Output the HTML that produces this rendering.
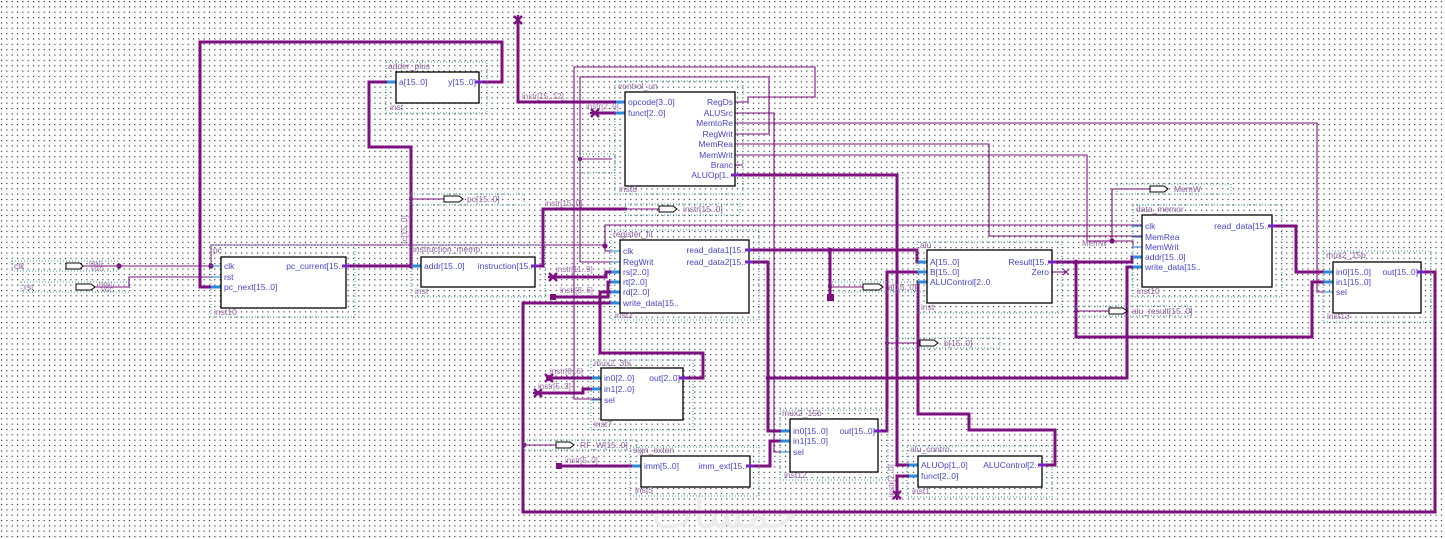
<!DOCTYPE html>
<html><head><meta charset="utf-8"><style>
html,body{margin:0;padding:0;background:#fff;}
svg{display:block;}
text{font-family:"Liberation Sans",sans-serif;}
.p{font-size:8.5px;fill:#4a42c8;}
.b{font-size:8.5px;fill:#8a5f9e;}
.n{font-size:8px;fill:#9a6aa8;}
.w{fill:none;stroke:#7d0f80;stroke-width:1.1;}
.W{fill:none;stroke:#7d0f80;stroke-width:3;stroke-linejoin:miter;}
.f{fill:none;stroke:#3f9c9c;stroke-width:1;stroke-dasharray:1,2;}
.bx{fill:#fff;stroke:#000;stroke-width:1.3;}
.si{stroke:#2b8be0;stroke-width:3;}
.st{stroke:#2b8be0;stroke-width:1.1;}
.so{stroke:#7a20c8;stroke-width:3;}
.pin{fill:#fff;stroke:#000;stroke-width:1;}
.j{fill:#7d0f80;}
</style></head><body>
<svg width="1445" height="539" viewBox="0 0 1445 539" xmlns="http://www.w3.org/2000/svg">
<defs>
<pattern id="g" x="1" y="1" width="5.333" height="5.35" patternUnits="userSpaceOnUse"><rect x="0" y="0" width="1.1" height="1.1" fill="#1a1a1a"/></pattern>
</defs>
<rect width="1445" height="539" fill="#fff"/>
<rect width="1445" height="539" fill="url(#g)"/>

<!-- watermark -->
<text x="725" y="528" text-anchor="middle" style="font-family:'DejaVu Sans',sans-serif;font-size:44px;fill:#ececec;">خمسات</text>

<!-- ===== thick bus wires ===== -->
<path class="W" d="M221 287 H200 V42 H502 V82 H479"/>
<path class="W" d="M396 82 H369 V147 H411 V266"/>
<path class="W" d="M346 266 H421"/>
<path class="W" d="M535 266 H543 V209 H627"/>
<path class="W" d="M518 20 V102 H625"/>
<path class="W" d="M595 113 H625"/>
<path class="W" d="M553 277 H606 V272 H620"/>
<path class="W" d="M553 297 H608 V282 H620"/>
<path class="W" d="M620 292 H600 V353 H703 V378 H683"/>
<path class="W" d="M620 303 H523 V512 H1435 V272 H1421"/>
<path class="W" d="M549 378 H601"/>
<path class="W" d="M538 393 H583 V389 H601"/>
<path class="W" d="M749 250 H917 V262 H927"/>
<path class="W" d="M830 250 V297"/>
<path class="W" d="M749 262 H768 V431 H790"/>
<path class="W" d="M768 378 H1127 V267 H1142"/>
<path class="W" d="M750 466 H770 V441 H790"/>
<path class="W" d="M878 431 H887 V272 H927"/>
<path class="W" d="M735 175 H897 V465 H918"/>
<path class="W" d="M1042 465 H1055 V430 H969 V414 H918 V282 H927"/>
<path class="W" d="M897 495 V476 H918"/>
<path class="W" d="M1052 262 H1132 V257 H1142"/>
<path class="W" d="M1076 262 V337 H1312 V282 H1333"/>
<path class="W" d="M1272 226 H1296 V272 H1333"/>
<path class="W" d="M559 466 H641"/>

<!-- ===== thin wires ===== -->
<path class="w" d="M82 266 H221"/>
<path class="w" d="M211 266 V245 H605 V251 H620"/>
<path class="w" d="M605 246 V225 H1142"/>
<path class="w" d="M95 287 H129 V277 H221"/>
<path class="w" d="M735 102 H748 V97 H815 V67 H574 V399 H601"/>
<path class="w" d="M735 113 H774 V452 H790"/>
<path class="w" d="M735 123 H1317 V292 H1333"/>
<path class="w" d="M735 134 H769 V77 H580 V262 H620"/>
<path class="w" d="M735 144 H989 V236 H1142"/>
<path class="w" d="M735 155 H1087 V241 H1133 V247 H1142"/>
<path class="w" d="M1112 241 V189 H1150"/>
<path class="w" d="M735 165 H743"/>
<path class="w" d="M1052 272 H1066"/>
<path class="w" d="M1063 269 L1069 275 M1069 269 L1063 275"/>
<path class="w" d="M580 159 H612"/>
<path class="w" d="M411 199 H444"/>
<path class="w" d="M627 209 H659"/>
<path class="w" d="M830 287 H863"/>
<path class="w" d="M887 343 H920"/>
<path class="w" d="M1076 311 H1109"/>
<path class="w" d="M524 445 H556"/>

<!-- junction dots -->
<g class="j">
<circle cx="119" cy="266" r="2.6"/><circle cx="211" cy="266" r="2.6"/>
<circle cx="411" cy="266" r="2.4"/><circle cx="411" cy="199" r="2"/>
<circle cx="605" cy="246" r="2.6"/><circle cx="580" cy="159" r="2.2"/>
<circle cx="830" cy="250" r="2.4"/><circle cx="830" cy="287" r="2"/>
<circle cx="768" cy="378" r="2.4"/><circle cx="887" cy="343" r="2"/>
<circle cx="1076" cy="262" r="2.4"/><circle cx="1076" cy="311" r="2"/>
<circle cx="1112" cy="241" r="2.6"/><circle cx="524" cy="445" r="2.4"/>
</g>
<!-- bus end markers -->
<g stroke="#7d0f80" stroke-width="2.4">
<path d="M514 16 L522 24 M522 16 L514 24 M518 15 V25"/>
<path d="M591 109 L599 117 M599 109 L591 117 M590 113 H600"/>
<path d="M549 273 L557 281 M557 273 L549 281 M548 277 H558"/>
<path d="M545 374 L553 382 M553 374 L545 382"/>
<path d="M534 389 L542 397 M542 389 L534 397 M533 393 H543"/>
<path d="M893 491 L901 499 M901 491 L893 499 M897 490 V500"/>
</g>
<g class="j">
<rect x="550" y="294" width="6" height="6"/>
<rect x="556" y="463" width="6" height="6"/>
<rect x="827" y="294" width="7" height="7"/>
<circle cx="549" cy="378" r="3"/>
</g>

<!-- pins -->
<polygon class="pin" points="66,263 80,263 83,266 80,269 66,269"/>
<polygon class="pin" points="76,284 91,284 95,287 91,290 76,290"/>
<polygon class="pin" points="444,196 459,196 463,199 459,202 444,202"/>
<polygon class="pin" points="659,206 673,206 677,209 673,212 659,212"/>
<polygon class="pin" points="863,284 879,284 883,287 879,290 863,290"/>
<polygon class="pin" points="920,340 934,340 938,343 934,346 920,346"/>
<polygon class="pin" points="1109,308 1123,308 1127,311 1123,314 1109,314"/>
<polygon class="pin" points="1150,186 1164,186 1168,189 1164,192 1150,192"/>
<polygon class="pin" points="556,442 570,442 574,445 570,448 556,448"/>

<!-- pin frames -->
<rect class="f" x="12" y="261" width="106" height="10"/>
<rect class="f" x="21" y="282" width="109" height="10"/>
<rect class="f" x="411" y="194" width="113" height="11"/>
<rect class="f" x="625" y="204" width="115" height="11"/>
<rect class="f" x="832" y="282" width="110" height="10"/>
<rect class="f" x="887" y="338" width="113" height="10"/>
<rect class="f" x="1076" y="306" width="114" height="10"/>
<rect class="f" x="1117" y="184" width="114" height="10"/>
<rect class="f" x="524" y="440" width="113" height="10"/>
<rect class="f" x="580" y="154" width="35" height="19"/>

<!-- pin labels -->
<text class="b" x="14" y="269">clk</text>
<text class="b" x="24" y="290">rst</text>
<text class="n" x="89" y="265" style="font-size:6px">input</text>
<text class="n" x="91" y="271" style="font-size:6px">VCC</text>
<text class="n" x="99" y="286" style="font-size:6px">input</text>
<text class="n" x="101" y="292" style="font-size:6px">VCC</text>
<text class="b" x="467" y="202">pc[15..0]</text>
<text class="b" x="683" y="212">instr[15..0]</text>
<text class="b" x="888" y="290">a[15..0]</text>
<text class="b" x="944" y="346">b[15..0]</text>
<text class="b" x="1132" y="314">alu_result[15..0]</text>
<text class="b" x="1174" y="192">MemW</text>
<text class="b" x="580" y="448">RF_W[15..0]</text>

<!-- net labels -->
<text class="n" x="522" y="99">instr[15..12]</text>
<text class="n" x="586" y="109">instr[2..0]</text>
<text class="n" x="545" y="206">instr[15..0]</text>
<text class="n" x="556" y="272">instr[11..9]</text>
<text class="n" x="560" y="293">instr[8..6]</text>
<text class="n" x="550" y="374">instr[8..6]</text>
<text class="n" x="538" y="389">instr[5..3]</text>
<text class="n" x="565" y="463">instr[5..0]</text>
<text class="n" x="1082" y="246">MemW</text>
<text class="n" transform="translate(407,246) rotate(-90)">pc[15..0]</text>
<text class="n" transform="translate(894,497) rotate(-90)">instr[2..0]</text>

<!-- ===== blocks ===== -->
<!-- pc -->
<rect class="f" x="211" y="245" width="144" height="72"/>
<line class="st" x1="212" y1="266" x2="221" y2="266"/><line class="st" x1="212" y1="277" x2="221" y2="277"/>
<line class="si" x1="211" y1="287" x2="221" y2="287"/>
<rect class="bx" x="221" y="257" width="125" height="51"/>
<line class="so" x1="342" y1="266" x2="350" y2="266"/>
<text class="b" x="213" y="253">pc</text><text class="b" x="214" y="315">inst10</text>
<text class="p" x="224" y="269">clk</text><text class="p" x="224" y="280">rst</text><text class="p" x="224" y="290">pc_next[15..0]</text>
<text class="p" x="343" y="269" text-anchor="end">pc_current[15..</text>

<!-- adder -->
<rect class="f" x="386" y="62" width="101" height="51"/>
<line class="si" x1="387" y1="82" x2="396" y2="82"/>
<rect class="bx" x="396" y="72" width="83" height="31"/>
<line class="so" x1="475" y1="82" x2="483" y2="82"/>
<text class="b" x="388" y="69">adder_plus</text><text class="b" x="390" y="110">inst</text>
<text class="p" x="399" y="85">a[15..0]</text><text class="p" x="476" y="85" text-anchor="end">y[15..0]</text>

<!-- instruction memory -->
<rect class="f" x="411" y="245" width="134" height="52"/>
<line class="si" x1="412" y1="266" x2="421" y2="266"/>
<rect class="bx" x="421" y="257" width="114" height="30"/>
<line class="so" x1="531" y1="266" x2="539" y2="266"/>
<text class="b" x="413" y="252">instruction_memo</text><text class="b" x="415" y="294">inst</text>
<text class="p" x="424" y="269">addr[15..0]</text><text class="p" x="533" y="269" text-anchor="end">instruction[15..</text>

<!-- control unit -->
<rect class="f" x="615" y="81" width="128" height="113"/>
<line class="si" x1="616" y1="102" x2="625" y2="102"/><line class="si" x1="616" y1="113" x2="625" y2="113"/>
<rect class="bx" x="625" y="92" width="110" height="94"/>
<line class="so" x1="731" y1="175" x2="739" y2="175"/>
<text class="b" x="618" y="89">control_un</text><text class="b" x="619" y="192">inst8</text>
<text class="p" x="628" y="105">opcode[3..0]</text><text class="p" x="628" y="116">funct[2..0]</text>
<text class="p" x="733" y="105" text-anchor="end">RegDs</text>
<text class="p" x="733" y="116" text-anchor="end">ALUSrc</text>
<text class="p" x="733" y="126" text-anchor="end">MemtoRe</text>
<text class="p" x="733" y="137" text-anchor="end">RegWrit</text>
<text class="p" x="733" y="147" text-anchor="end">MemRea</text>
<text class="p" x="733" y="158" text-anchor="end">MemWrit</text>
<text class="p" x="733" y="168" text-anchor="end">Branc</text>
<text class="p" x="731" y="178" text-anchor="end">ALUOp[1..</text>

<!-- register file -->
<rect class="f" x="611" y="230" width="148" height="90"/>
<line class="st" x1="611" y1="251" x2="620" y2="251"/><line class="st" x1="611" y1="262" x2="620" y2="262"/>
<line class="si" x1="611" y1="272" x2="620" y2="272"/><line class="si" x1="611" y1="282" x2="620" y2="282"/>
<line class="si" x1="611" y1="292" x2="620" y2="292"/><line class="si" x1="611" y1="303" x2="620" y2="303"/>
<rect class="bx" x="620" y="240" width="129" height="73"/>
<line class="so" x1="745" y1="250" x2="753" y2="250"/><line class="so" x1="745" y1="262" x2="753" y2="262"/>
<text class="b" x="613" y="237">register_fil</text><text class="b" x="615" y="318">inst2</text>
<text class="p" x="623" y="254">clk</text><text class="p" x="623" y="265">RegWrit</text>
<text class="p" x="623" y="275">rs[2..0]</text><text class="p" x="623" y="285">rt[2..0]</text>
<text class="p" x="623" y="295">rd[2..0]</text><text class="p" x="623" y="306">write_data[15..</text>
<text class="p" x="746" y="253" text-anchor="end">read_data1[15..</text>
<text class="p" x="746" y="265" text-anchor="end">read_data2[15..</text>

<!-- alu -->
<rect class="f" x="917" y="242" width="145" height="71"/>
<line class="si" x1="918" y1="262" x2="927" y2="262"/><line class="si" x1="918" y1="272" x2="927" y2="272"/>
<line class="si" x1="918" y1="282" x2="927" y2="282"/>
<rect class="bx" x="927" y="250" width="125" height="53"/>
<line class="so" x1="1048" y1="262" x2="1056" y2="262"/>
<text class="b" x="920" y="248">alu</text><text class="b" x="921" y="310">inst</text>
<text class="p" x="930" y="265">A[15..0]</text><text class="p" x="930" y="275">B[15..0]</text><text class="p" x="930" y="285">ALUControl[2..0</text>
<text class="p" x="1049" y="265" text-anchor="end">Result[15..</text><text class="p" x="1049" y="275" text-anchor="end">Zero</text>

<!-- data memory -->
<rect class="f" x="1133" y="205" width="149" height="92"/>
<line class="st" x1="1133" y1="226" x2="1142" y2="226"/><line class="st" x1="1133" y1="237" x2="1142" y2="237"/>
<line class="st" x1="1133" y1="247" x2="1142" y2="247"/>
<line class="si" x1="1133" y1="257" x2="1142" y2="257"/><line class="si" x1="1133" y1="267" x2="1142" y2="267"/>
<rect class="bx" x="1142" y="215" width="130" height="72"/>
<line class="so" x1="1268" y1="226" x2="1276" y2="226"/>
<text class="b" x="1136" y="212">data_memor</text><text class="b" x="1137" y="294">inst10</text>
<text class="p" x="1145" y="229">clk</text><text class="p" x="1145" y="240">MemRea</text><text class="p" x="1145" y="250">MemWrit</text>
<text class="p" x="1145" y="260">addr[15..0]</text><text class="p" x="1145" y="270">write_data[15..</text>
<text class="p" x="1269" y="229" text-anchor="end">read_data[15..</text>

<!-- mux2 15b right -->
<rect class="f" x="1323" y="251" width="108" height="71"/>
<line class="si" x1="1324" y1="272" x2="1333" y2="272"/><line class="si" x1="1324" y1="282" x2="1333" y2="282"/>
<line class="st" x1="1324" y1="292" x2="1333" y2="292"/>
<rect class="bx" x="1333" y="262" width="88" height="51"/>
<line class="so" x1="1417" y1="272" x2="1425" y2="272"/>
<text class="b" x="1326" y="258">mux2_15b</text><text class="b" x="1327" y="319">inst13</text>
<text class="p" x="1336" y="275">in0[15..0]</text><text class="p" x="1336" y="285">in1[15..0]</text><text class="p" x="1336" y="295">sel</text>
<text class="p" x="1418" y="275" text-anchor="end">out[15..0]</text>

<!-- mux2 3bit -->
<rect class="f" x="591" y="360" width="102" height="70"/>
<line class="si" x1="592" y1="378" x2="601" y2="378"/><line class="si" x1="592" y1="389" x2="601" y2="389"/>
<line class="st" x1="592" y1="400" x2="601" y2="400"/>
<rect class="bx" x="601" y="368" width="82" height="52"/>
<line class="so" x1="679" y1="378" x2="687" y2="378"/>
<text class="b" x="594" y="366">mux2_3bi</text><text class="b" x="594" y="427">inst7</text>
<text class="p" x="604" y="381">in0[2..0]</text><text class="p" x="604" y="392">in1[2..0]</text><text class="p" x="604" y="403">sel</text>
<text class="p" x="680" y="381" text-anchor="end">out[2..0]</text>

<!-- mux2 15b middle -->
<rect class="f" x="780" y="410" width="108" height="70"/>
<line class="si" x1="781" y1="431" x2="790" y2="431"/><line class="si" x1="781" y1="441" x2="790" y2="441"/>
<line class="st" x1="781" y1="452" x2="790" y2="452"/>
<rect class="bx" x="790" y="419" width="88" height="53"/>
<line class="so" x1="874" y1="431" x2="882" y2="431"/>
<text class="b" x="782" y="416">mux2_15b</text><text class="b" x="784" y="478">inst12</text>
<text class="p" x="793" y="434">in0[15..0]</text><text class="p" x="793" y="444">in1[15..0]</text><text class="p" x="793" y="455">sel</text>
<text class="p" x="875" y="434" text-anchor="end">out[15..0]</text>

<!-- sign extend -->
<rect class="f" x="630" y="447" width="129" height="49"/>
<line class="si" x1="632" y1="466" x2="641" y2="466"/>
<rect class="bx" x="641" y="456" width="109" height="31"/>
<line class="so" x1="746" y1="466" x2="754" y2="466"/>
<text class="b" x="633" y="453">sign_exten</text><text class="b" x="635" y="493">inst5</text>
<text class="p" x="644" y="469">imm[5..0]</text><text class="p" x="747" y="469" text-anchor="end">imm_ext[15..</text>

<!-- alu control -->
<rect class="f" x="907" y="446" width="145" height="51"/>
<line class="si" x1="909" y1="465" x2="918" y2="465"/><line class="si" x1="909" y1="476" x2="918" y2="476"/>
<rect class="bx" x="918" y="456" width="124" height="31"/>
<line class="so" x1="1038" y1="465" x2="1046" y2="465"/>
<text class="b" x="910" y="452">alu_contro</text><text class="b" x="912" y="494">inst1</text>
<text class="p" x="921" y="468">ALUOp[1..0]</text><text class="p" x="921" y="479">funct[2..0]</text>
<text class="p" x="1039" y="468" text-anchor="end">ALUControl[2..</text>
</svg>
</body></html>
